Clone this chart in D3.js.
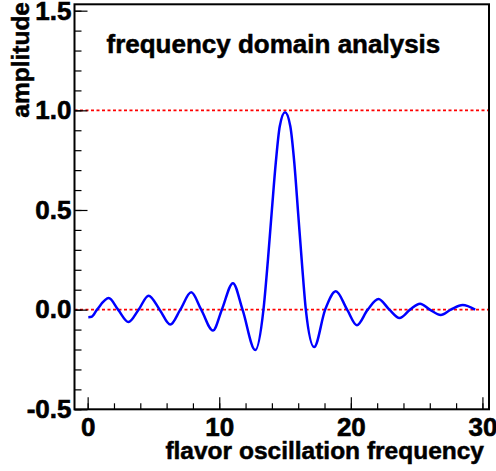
<!DOCTYPE html>
<html>
<head>
<meta charset="utf-8">
<script src="https://cdn.jsdelivr.net/npm/d3@7"></script>
<style>
  html, body { margin: 0; padding: 0; background: #fff; }
  svg { display: block; }
  text { font-family: "Liberation Sans", Arial, Helvetica, sans-serif; font-weight: bold; fill: #000; }
</style>
</head>
<body>
<div id="chart"></div>
<script>
// ---- data ----
const freq = [0.05, 0.3, 0.71, 1.6, 2.31, 3.1, 3.87, 4.63, 5.47, 6.28, 7.04, 7.87, 8.63, 9.52, 10.2, 11.04, 11.77, 12.74, 13.36, 13.7, 14.0, 14.3, 14.6, 15.0, 15.4, 15.7, 16.0, 16.3, 16.58, 17.21, 18.05, 18.86, 19.72, 20.46, 21.28, 22.1, 22.93, 23.7, 24.5, 25.26, 26.0, 26.83, 27.6, 28.5, 29.45];
const amp  = [-0.038, -0.036, 0, 0.058, 0, -0.062, 0, 0.070, 0, -0.075, 0, 0.087, 0, -0.105, 0, 0.133, 0, -0.203, 0, 0.25, 0.50, 0.74, 0.92, 0.99, 0.92, 0.74, 0.48, 0.22, 0, -0.188, 0, 0.092, 0, -0.078, 0, 0.053, 0, -0.042, 0, 0.030, 0, -0.027, 0, 0.023, 0.0];
const refLevels = [0, 1];
const xMajorTicks = [0, 10, 20, 30];
const xMinorTicks = d3.range(0, 31, 2);
const yMajorTicks = [-0.5, 0, 0.5, 1.0, 1.5];
const yMinorTicks = d3.range(-5, 16).map(d => d / 10);
const titleText = "frequency domain analysis";
const xTitle = "flavor oscillation frequency";
const yTitle = "amplitude";

const W = 496, H = 471;
const L = 74.5, R = 489, T = 4.3, B = 409.3;

const svg = d3.select("#chart").append("svg").attr("width", W).attr("height", H);

const x = d3.scaleLinear().domain([-1, 30.5]).range([L, R]);
const y = d3.scaleLinear().domain([-0.5, 1.532]).range([B, T]);

// reference dotted lines
svg.selectAll("line.ref").data(refLevels).enter().append("line")
  .attr("class", "ref")
  .attr("x1", L).attr("x2", R)
  .attr("y1", d => y(d)).attr("y2", d => y(d))
  .attr("stroke", "#ff0000").attr("stroke-width", 1.6)
  .attr("stroke-dasharray", "3,2.5");

// curve
const pts = freq.map((f, i) => [f, amp[i]]);
svg.append("path")
  .datum(pts)
  .attr("fill", "none")
  .attr("stroke", "#0000ff")
  .attr("stroke-width", 2.5)
  .attr("stroke-linejoin", "round")
  .attr("d", d3.line().x(d => x(d[0])).y(d => y(d[1])).curve(d3.curveMonotoneX));

// frame
svg.append("rect")
  .attr("x", L).attr("y", T).attr("width", R - L).attr("height", B - T)
  .attr("fill", "none").attr("stroke", "#000").attr("stroke-width", 2);

// axes
const fmtY = d => d.toFixed(1);
const gyMinor = svg.append("g").attr("transform", `translate(${L},0)`)
  .call(d3.axisLeft(y).tickValues(yMinorTicks).tickSize(-7).tickFormat(""));
const gy = svg.append("g").attr("transform", `translate(${L},0)`)
  .call(d3.axisLeft(y).tickValues(yMajorTicks).tickSize(-13).tickPadding(3).tickFormat(fmtY));
const gxMinor = svg.append("g").attr("transform", `translate(0,${B})`)
  .call(d3.axisBottom(x).tickValues(xMinorTicks).tickSize(-6).tickFormat(""));
const gx = svg.append("g").attr("transform", `translate(0,${B})`)
  .call(d3.axisBottom(x).tickValues(xMajorTicks).tickSize(-12).tickPadding(8).tickFormat(d3.format("d")));

[gyMinor, gy, gxMinor, gx].forEach(g => {
  g.select(".domain").remove();
  g.selectAll(".tick line").attr("stroke", "#000").attr("stroke-width", 1.2);
  g.selectAll("text").style("font-family", '"Liberation Sans", Arial, sans-serif')
    .style("font-weight", "bold").attr("fill", "#000")
    .attr("stroke", "#000").attr("stroke-width", 0.6);
});
gy.selectAll("text").style("font-size", "26px");
gx.selectAll("text").style("font-size", "26px");

// titles
svg.append("text")
  .attr("x", 106.5).attr("y", 52.5)
  .style("font-size", "26px")
  .attr("stroke", "#000").attr("stroke-width", 0.5)
  .text(titleText);

svg.append("text")
  .attr("x", 484).attr("y", 459)
  .attr("text-anchor", "end")
  .style("font-size", "24.5px")
  .attr("stroke", "#000").attr("stroke-width", 0.5)
  .text(xTitle);

svg.append("text")
  .attr("transform", "translate(29,2) rotate(-90)")
  .attr("text-anchor", "end")
  .style("font-size", "24.5px")
  .attr("stroke", "#000").attr("stroke-width", 0.5)
  .text(yTitle);
</script>
</body>
</html>
